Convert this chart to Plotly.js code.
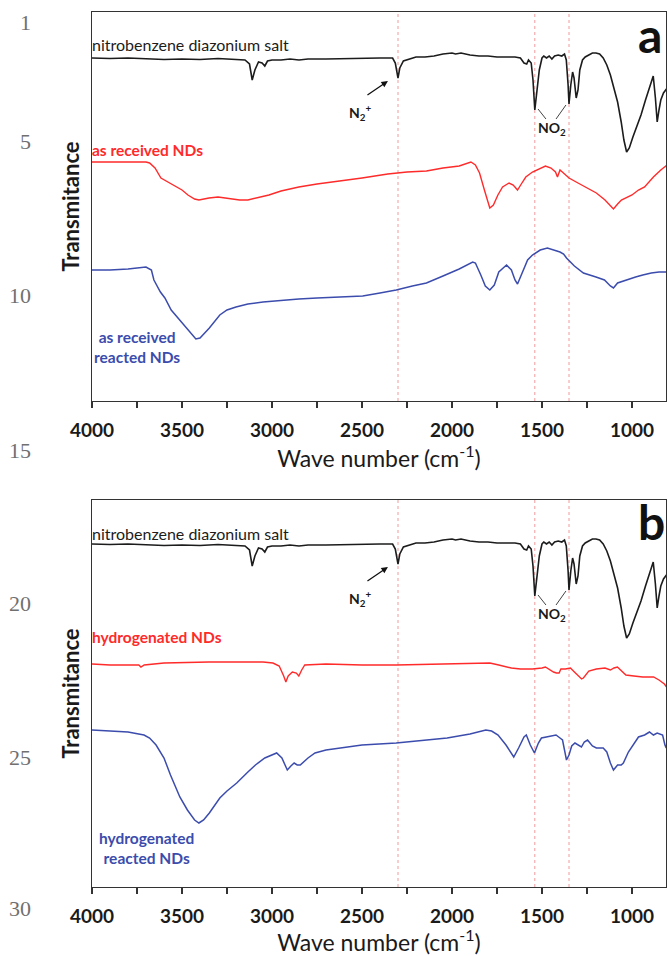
<!DOCTYPE html>
<html><head><meta charset="utf-8">
<script src="https://cdn.plot.ly/plotly-3.0.1.min.js"></script>
<style>html,body{margin:0;padding:0;background:#fff}#chart{width:667px;height:956px}</style>
</head><body><div id="chart"></div>
<script>
// ---------- DATA (transmittance in arbitrary offset units) ----------
const wnSalt = [4000,3900,3800,3700,3600,3500,3400,3300,3200,3150,3125,3110,3095,3075,3055,3040,3025,3000,2950,2900,2850,2800,2700,2600,2500,2400,2330,2315,2300,2290,2270,2240,2200,2150,2100,2050,2000,1980,1950,1900,1850,1800,1750,1700,1650,1620,1600,1585,1575,1560,1550,1540,1530,1515,1500,1490,1475,1460,1445,1430,1410,1390,1375,1365,1355,1350,1340,1330,1322,1310,1300,1290,1275,1260,1240,1220,1200,1180,1160,1140,1120,1100,1080,1060,1045,1030,1015,995,975,950,925,900,882,870,860,850,840,825,805];
const tSalt = [343,342.5,343,342,341.5,342,341.5,342.5,342,341,337,321,331,339,338,335,340,341,341,342,341,342,342,342.5,343,343,343,338,323,333,340,342,344,344,345,347,348,347,348,346,345,345,344,344,344,343,338,337,341,338,321,291,306,331,343,345,343,345,342,345,346,345,347,341,316,297,316,329,323,303,311,331,341,344,346,348,348,347,343,336,326,313,299,279,261,249,253,264,274,286,301,314,325,303,279,291,301,308,313];

const wnAsRec = [4000,3800,3700,3680,3650,3617,3580,3550,3500,3467,3430,3406,3350,3300,3250,3180,3134,3080,3017,2950,2851,2750,2618,2500,2357,2250,2142,2050,1960,1908,1895,1870,1847,1820,1800,1790,1770,1745,1719,1683,1660,1636,1615,1590,1553,1520,1481,1450,1425,1414,1405,1400,1387,1350,1300,1250,1198,1150,1103,1080,1059,1000,964,930,881,840,805];
const tAsRec = [239,239,239,238,233,223,219,216,211,206,202,201,203,204,203,201,201,203,206,210,214,217,220,223,227,229,230,233,235,238,239,236,228,211,197,193,196,206,214,218,216,211,217,224,229,232,235,233,229,224,228,231,229,223,218,213,208,201,192,197,201,206,211,214,224,231,236];

const wnAsRecReacted = [4000,3900,3800,3700,3670,3656,3620,3595,3560,3490,3450,3423,3400,3380,3348,3290,3250,3200,3134,3050,2995,2900,2851,2750,2650,2496,2400,2310,2220,2142,2050,1960,1885,1870,1840,1815,1790,1765,1740,1697,1670,1650,1636,1610,1580,1553,1510,1470,1430,1400,1380,1364,1320,1270,1200,1153,1120,1103,1080,1034,980,940,893,850,805];
const tAsRecReacted = [131,131,132,134,131,121,109,103,91,76,68,62,63,67,73,86,91,94,97,99,100,101,102,103,104,105,108,111,115,118,125,132,139,138,126,115,111,116,129,136,131,121,117,129,141,146,151,153,151,149,147,143,135,128,124,121,115,113,118,121,124,126,128,129,129];

const wnHydro = [4000,3900,3800,3740,3728,3710,3600,3450,3350,3200,3050,2995,2960,2935,2923,2910,2887,2865,2851,2835,2818,2700,2500,2310,2100,1900,1790,1740,1670,1620,1553,1500,1481,1436,1420,1405,1395,1370,1342,1320,1280,1270,1240,1198,1150,1120,1100,1081,1060,1034,990,940,880,850,820,805];
const tHydro = [223,222,222,222,220,222,224,225,225,225,225,224,221,211,205,211,215,214,211,217,222,223,222,222,223,224,224,222,219,218,218,219,220,215,214,214,218,218,219,215,208,209,216,218,219,217,219,220,216,212,211,210,210,207,203,199];

const wnHydroReacted = [4000,3900,3800,3711,3680,3644,3600,3564,3540,3512,3470,3430,3406,3380,3348,3320,3290,3250,3196,3134,3092,3040,2974,2945,2915,2895,2877,2860,2843,2800,2761,2700,2619,2500,2310,2150,2027,1900,1812,1780,1744,1700,1657,1630,1600,1587,1565,1542,1520,1503,1460,1422,1400,1386,1375,1364,1350,1335,1317,1281,1265,1247,1220,1198,1160,1140,1120,1103,1080,1060,1048,1020,964,930,903,881,860,830,817,810,805];
const tHydroReacted = [157,156,155,152,149,142,129,112,102,90,77,67,64,67,74,81,89,96,104,115,122,129,134,129,117,121,124,122,122,129,134,137,139,142,144,147,149,153,157,156,152,142,130,139,150,152,142,134,144,149,151,152,149,147,137,127,132,141,144,140,145,147,141,139,139,135,124,117,122,122,124,135,150,152,155,152,154,152,142,139,147];

const markerLines = [2300, 1540, 1350];
const xTicks = [4000, 3500, 3000, 2500, 2000, 1500, 1000];
const lineNumbers = ['1','5','10','15','20','25','30'];

// ---------- GEOMETRY HELPERS ----------
const L = 92, R = 1, T = 12, B = 69, W = 667, H = 956;
const PW = W - L - R, PH = H - T - B;
const pxX = x => (x - L) / PW;
const pxY = y => (H - B - y) / PH;

const cBlack = '#1c1c1c', cRed = '#ff2a2a', cBlue = '#3b4cad';

const traces = [
  {x: wnSalt, y: tSalt, xaxis: 'x', yaxis: 'y', line: {color: cBlack, width: 1.6}},
  {x: wnAsRec, y: tAsRec, xaxis: 'x', yaxis: 'y', line: {color: cRed, width: 1.4}},
  {x: wnAsRecReacted, y: tAsRecReacted, xaxis: 'x', yaxis: 'y', line: {color: cBlue, width: 1.5}},
  {x: wnSalt, y: tSalt, xaxis: 'x2', yaxis: 'y2', line: {color: cBlack, width: 1.6}},
  {x: wnHydro, y: tHydro, xaxis: 'x2', yaxis: 'y2', line: {color: cRed, width: 1.4}},
  {x: wnHydroReacted, y: tHydroReacted, xaxis: 'x2', yaxis: 'y2', line: {color: cBlue, width: 1.5}}
].map(t => Object.assign({type: 'scatter', mode: 'lines', hoverinfo: 'skip', showlegend: false}, t));

const xRange = [4000, 4000 - PW / 0.18];
function xAxis(anchor) {
  return {
    anchor: anchor, domain: [0, 1], range: xRange,
    showline: true, linecolor: '#333', linewidth: 1.4, mirror: true,
    showgrid: false, zeroline: false,
    tickmode: 'array', tickvals: xTicks, ticktext: xTicks.map(String),
    ticks: 'outside', ticklen: 6, tickwidth: 1.2, tickcolor: '#333',
    minor: {dtick: 250, tick0: 0, ticks: 'outside', ticklen: 6, tickwidth: 1.2, tickcolor: '#333', showgrid: false},
    ticklabelstandoff: 6,
    tickfont: {family: 'Lato', size: 19, color: '#1a1a1a', weight: 'bold'},
    title: {text: 'Wave number (cm<sup>-1</sup>)', font: {family: 'Lato', size: 23, color: '#1a1a1a'}, standoff: 8}
  };
}
function yAxis(anchor, domain, range) {
  return {
    anchor: anchor, domain: domain, range: range,
    showline: true, linecolor: '#333', linewidth: 1.4, mirror: true,
    showgrid: false, zeroline: false, ticks: '', showticklabels: false,
    title: {text: 'Transmitance', font: {family: 'Lato', size: 22, color: '#1a1a1a', weight: 'bold'}, standoff: 5}
  };
}

const shapes = [];
['x', 'x2'].forEach(xr => {
  markerLines.forEach(w => shapes.push({type: 'line', xref: xr, yref: (xr === 'x' ? 'y' : 'y2') + ' domain',
    x0: w, x1: w, y0: 0, y1: 1, line: {color: '#f29a9a', width: 1, dash: 'dot'}, layer: 'below'}));
});
// NO2 connector lines (both panels)
[['x', 'y'], ['x2', 'y2']].forEach(([xr, yr]) => {
  shapes.push({type: 'line', xref: xr, yref: yr, x0: 1522, y0: 292, x1: 1478, y1: 282, line: {color: '#444', width: 1}});
  shapes.push({type: 'line', xref: xr, yref: yr, x0: 1367, y0: 296, x1: 1422, y1: 282, line: {color: '#444', width: 1}});
});

const lab = (text, x, y, opt) => Object.assign({text: text, xref: 'paper', yref: 'paper', x: pxX(x), y: pxY(y),
  showarrow: false, xanchor: 'left', yanchor: 'middle'}, opt || {});
const fLab = (size, color, weight) => ({family: 'Lato', size: size, color: color, weight: weight || 'normal'});

const annotations = [
  lab('nitrobenzene diazonium salt', 90, 45, {font: fLab(16, cBlack)}),
  lab('as received NDs', 90, 150, {font: fLab(15.5, cRed, 'bold')}),
  lab('as received<br>reacted NDs', 137, 347, {xanchor: 'center', align: 'center', font: fLab(15.5, cBlue, 'bold')}),
  lab('a', 636, 35, {font: fLab(48, '#111', 'bold')}),
  lab('nitrobenzene diazonium salt', 90, 533, {font: fLab(16, cBlack)}),
  lab('hydrogenated NDs', 90, 637, {font: fLab(15.5, cRed, 'bold')}),
  lab('hydrogenated<br>reacted NDs', 146, 848, {xanchor: 'center', align: 'center', font: fLab(15.5, cBlue, 'bold')}),
  lab('b', 636, 521, {font: fLab(48, '#111', 'bold')})
];
// N2+ and NO2 labels, arrows
[['x', 'y'], ['x2', 'y2']].forEach(([xr, yr]) => {
  annotations.push({xref: xr, yref: yr, x: 2511, y: 289, text: 'N<sub>2</sub><sup>+</sup>', showarrow: false,
    font: fLab(14, '#1a1a1a', 'bold'), xanchor: 'center', yanchor: 'middle'});
  annotations.push({xref: xr, yref: yr, axref: xr, ayref: yr, x: 2356, y: 320, ax: 2478, ay: 305, text: ' ',
    showarrow: true, arrowhead: 2, arrowsize: 1, arrowwidth: 1.3, arrowcolor: '#111', font: {size: 1}});
  annotations.push({xref: xr, yref: yr, x: 1444, y: 273, text: 'NO<sub>2</sub>', showarrow: false,
    font: fLab(14, '#1a1a1a', 'bold'), xanchor: 'center', yanchor: 'middle'});
});
// manuscript line numbers
const lnY = [23, 141, 295, 450, 603, 757, 908];
lineNumbers.forEach((n, i) => annotations.push(lab(n, 33, lnY[i], {xanchor: 'right',
  font: {family: 'Liberation Serif', size: 22, color: '#707070'}})));

const layout = {
  width: W, height: H, margin: {l: L, r: R, t: T, b: B},
  paper_bgcolor: '#fff', plot_bgcolor: '#fff', showlegend: false,
  xaxis: xAxis('y'), yaxis: yAxis('x', [pxY(401), 1], [0, 389]),
  xaxis2: xAxis('y2'), yaxis2: yAxis('x2', [0, pxY(500)], [0, 387]),
  shapes: shapes, annotations: annotations
};
Plotly.newPlot('chart', traces, layout, {displayModeBar: false, staticPlot: true});
</script></body></html>
